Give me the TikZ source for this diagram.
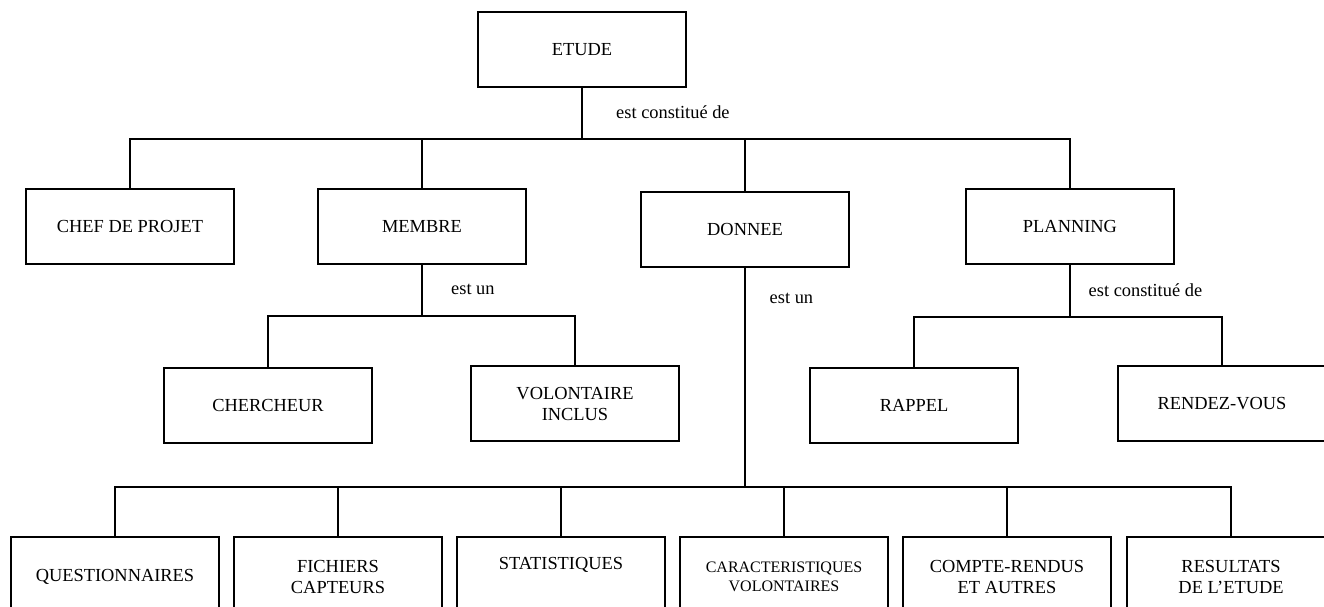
\documentclass[tikz,border=0pt]{standalone}
\usepackage{fontspec}
\setmainfont{Liberation Serif}
\newcommand{\boxfont}{\fontsize{18.4pt}{21pt}\selectfont}
\newcommand{\smallboxfont}{\fontsize{16pt}{19.3pt}\selectfont}
\tikzset{
  entity/.style={draw, line width=1.8pt, minimum width=208pt, minimum height=75pt,
    inner sep=0pt, align=center, font=\boxfont},
  leaf/.style={entity, minimum height=80pt},
  link/.style={line width=1.8pt},
  rel/.style={anchor=west, inner sep=0pt, font=\boxfont}
}
\begin{document}
\begin{tikzpicture}[x=1pt, y=-1pt]
\useasboundingbox (0,0) rectangle (1324,606);
\clip (0,0) rectangle (1324,606);
\fill[white] (0,0) rectangle (1324,606);

% level 0
\node[entity] (etude) at (582,49.5) {ETUDE};

% level 1
\node[entity] (chef)     at (130,226.5)  {CHEF DE PROJET};
\node[entity] (membre)   at (422,226.5)  {MEMBRE};
\node[entity] (donnee)   at (745,229.5)  {DONNEE};
\node[entity] (planning) at (1070,226.5) {PLANNING};

% level 2
\node[entity] (chercheur)  at (268,405.5)  {CHERCHEUR};
\node[entity] (volontaire) at (575,403.5)  {VOLONTAIRE\\INCLUS};
\node[entity] (rappel)     at (914,405.5)  {RAPPEL};
\node[entity] (rdv)        at (1222,403.5) {RENDEZ-VOUS};

% data kinds
\node[leaf] (quest)   at (115,577)  {QUESTIONNAIRES};
\node[leaf] (fich)    at (338,577)  {FICHIERS\\CAPTEURS};
\node[leaf] (stat)    at (561,577)  {STATISTIQUES\\\strut};
\node[leaf, font=\smallboxfont] (caract) at (784,577) {CARACTERISTIQUES\\VOLONTAIRES};
\node[leaf] (compte)  at (1007,577) {COMPTE-RENDUS\\ET AUTRES};
\node[leaf] (result)  at (1231,577) {RESULTATS\\DE L'ETUDE};

% junction points of the bars
\coordinate (j0) at (etude.south |- 0,139);
\coordinate (j1) at (membre.south |- 0,316);
\coordinate (j2) at (donnee.south |- 0,487);
\coordinate (j3) at (planning.south |- 0,317);

% connectors
\draw[link] (etude.south) -- (j0);
\foreach \n in {chef, membre, donnee, planning} \draw[link] (j0) -| (\n.north);

\draw[link] (membre.south) -- (j1);
\foreach \n in {chercheur, volontaire} \draw[link] (j1) -| (\n.north);

\draw[link] (donnee.south) -- (j2);
\foreach \n in {quest, fich, stat, caract, compte, result} \draw[link] (j2) -| (\n.north);

\draw[link] (planning.south) -- (j3);
\foreach \n in {rappel, rdv} \draw[link] (j3) -| (\n.north);

% relation labels
\node[rel] (r0) at (616,112)    {est constitué de};
\node[rel] (r1) at (451,289)    {est un};
\node[rel] (r2) at (769.5,298)  {est un};
\node[rel] (r3) at (1088.5,290) {est constitué de};
\end{tikzpicture}
\end{document}
